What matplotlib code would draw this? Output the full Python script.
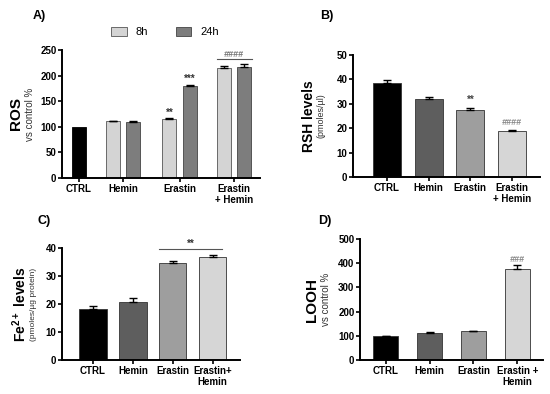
import numpy as np
import matplotlib.pyplot as plt

plt.rcParams['font.family'] = ['Liberation Sans', 'DejaVu Sans']
plt.rcParams['font.weight'] = 'bold'
plt.rcParams['axes.linewidth'] = 1.4
plt.rcParams['mathtext.fontset'] = 'custom'
plt.rcParams['mathtext.rm'] = 'Liberation Sans'
plt.rcParams['mathtext.bf'] = 'Liberation Sans:bold'

groups = ['CTRL', 'Hemin', 'Erastin', 'Erastin\n+ Hemin']

# panel A - ROS, two time points
ros_ctrl = 100
ros_8h = [111, 115, 215]
ros_8h_err = [1, 2, 3]
ros_24h = [109, 180, 217]
ros_24h_err = [2, 2, 5]

# panel B - RSH
rsh = [38.5, 32.0, 27.3, 19.0]
rsh_err = [1.2, 0.6, 0.9, 0.4]

# panel C - Fe2+
fe = [18.2, 20.8, 34.8, 36.7]
fe_err = [1.2, 1.4, 0.7, 0.8]

# panel D - LOOH
looh = [100, 113, 118, 378]
looh_err = [1, 2, 2, 16]

colors = ['#000000', '#5e5e5e', '#9e9e9e', '#d6d6d6']
c8, c24 = '#d4d4d4', '#7d7d7d'
W, H = 550, 394

fig = plt.figure(figsize=(5.5, 3.94), dpi=100)


def px_axes(x0, y0, x1, y1):
    return fig.add_axes([x0 / W, 1 - y1 / H, (x1 - x0) / W, (y1 - y0) / H])


def style(ax, ylim, ticks):
    ax.set_ylim(*ylim)
    ax.set_yticks(ticks)
    for s in ['top', 'right']:
        ax.spines[s].set_visible(False)
    ax.tick_params(width=1.2, length=3, labelsize=7, pad=1)
    for lab in ax.get_yticklabels() + ax.get_xticklabels():
        lab.set_fontweight('bold')


def ylabel2(ax, main, sub, x1=-0.2, x2=-0.13, size=10, subsize=7):
    ax.text(x1, 0.5, main, transform=ax.transAxes, rotation=90, ha='center',
            va='center', fontsize=size, fontweight='bold')
    ax.text(x2, 0.5, sub, transform=ax.transAxes, rotation=90, ha='center',
            va='center', fontsize=subsize, fontweight='normal', color='#333333')


def upper_err(ax, x, y, e, lw=1.0):
    ax.errorbar(x, y, yerr=[np.zeros(len(e)), e], fmt='none', ecolor='black',
                elinewidth=lw, capsize=3, capthick=lw)


# ---- A ----
axA = px_axes(62, 50, 260, 178)
pos = np.array([0.8, 1.83, 2.82])
bw = 0.255
axA.bar(0, ros_ctrl, bw, color='black', edgecolor='black', linewidth=0.6)
axA.bar(pos - 0.187, ros_8h, bw, color=c8, edgecolor='#555555', linewidth=0.6, label='8h')
axA.bar(pos + 0.187, ros_24h, bw, color=c24, edgecolor='#444444', linewidth=0.6, label='24h')
upper_err(axA, pos - 0.187, ros_8h, ros_8h_err)
upper_err(axA, pos + 0.187, ros_24h, ros_24h_err)
axA.set_xlim(-0.31, 3.29)
axA.set_xticks([0, *pos])
axA.set_xticklabels(groups)
style(axA, (0, 250), [0, 50, 100, 150, 200, 250])
axA.text(pos[1] - 0.187, 121, '**', ha='center', fontsize=7, color='#333333')
axA.text(pos[1] + 0.187, 187, '***', ha='center', fontsize=7, color='#333333')
axA.plot([pos[2] - 0.32, pos[2] + 0.32], [232, 232], color='#555555', lw=0.8)
axA.text(pos[2], 236, '####', ha='center', fontsize=6.5, color='#777777', style='italic')
ylabel2(axA, 'ROS', 'vs control %', -0.23, -0.16, size=11)
axA.legend(loc='lower center', bbox_to_anchor=(0.52, 1.02), ncol=2, frameon=False,
           handlelength=1.4, handleheight=0.8, columnspacing=2.5,
           prop={'weight': 'normal', 'size': 8})
fig.text(33 / W, 1 - 19 / H, 'A)', fontsize=9, fontweight='bold')

# ---- B ----
axB = px_axes(353, 55, 540, 177)
xb = np.arange(4)
axB.bar(xb, rsh, 0.67, color=colors, edgecolor='#333333', linewidth=0.6)
upper_err(axB, xb, rsh, rsh_err)
axB.set_xlim(-0.815, 3.67)
axB.set_xticks(xb)
axB.set_xticklabels(groups)
style(axB, (0, 50), [0, 10, 20, 30, 40, 50])
axB.text(2, 30.5, '**', ha='center', fontsize=7, color='#444444')
axB.text(3, 21.5, '####', ha='center', fontsize=6.5, color='#888888', style='italic')
ylabel2(axB, 'RSH levels', '(pmoles/µl)', -0.235, -0.17, size=10, subsize=6.5)
fig.text(320 / W, 1 - 19 / H, 'B)', fontsize=9, fontweight='bold')

# ---- C ----
axC = px_axes(62, 248, 240, 360)
xc = np.arange(4)
axC.bar(xc, fe, 0.69, color=colors, edgecolor='#333333', linewidth=0.6)
upper_err(axC, xc, fe, fe_err)
axC.set_xlim(-0.78, 3.69)
axC.set_xticks(xc)
axC.set_xticklabels(['CTRL', 'Hemin', 'Erastin', 'Erastin+\nHemin'])
style(axC, (0, 40), [0, 10, 20, 30, 40])
axC.plot([1.65, 3.25], [39.5, 39.5], color='#555555', lw=0.8, clip_on=False)
axC.text(2.45, 40.5, '**', ha='center', fontsize=7, color='#333333')
ylabel2(axC, r'Fe$^{\mathbf{2+}}$ levels', '(pmoles/µg protein)', -0.235, -0.16,
        size=10, subsize=6)
fig.text(37 / W, 1 - 224 / H, 'C)', fontsize=9, fontweight='bold')

# ---- D ----
axD = px_axes(360, 239, 543, 360)
xd = np.arange(4)
axD.bar(xd, looh, 0.57, color=colors, edgecolor='#333333', linewidth=0.6)
upper_err(axD, xd, looh, looh_err)
axD.set_xlim(-0.58, 3.58)
axD.set_xticks(xd)
axD.set_xticklabels(['CTRL', 'Hemin', 'Erastin', 'Erastin +\nHemin'])
style(axD, (0, 500), [0, 100, 200, 300, 400, 500])
axD.text(3, 405, '###', ha='center', fontsize=6.5, color='#888888', style='italic')
ylabel2(axD, 'LOOH', 'vs control %', -0.26, -0.185, size=11)
fig.text(318 / W, 1 - 224 / H, 'D)', fontsize=9, fontweight='bold')

fig.savefig('out.png', dpi=100)
